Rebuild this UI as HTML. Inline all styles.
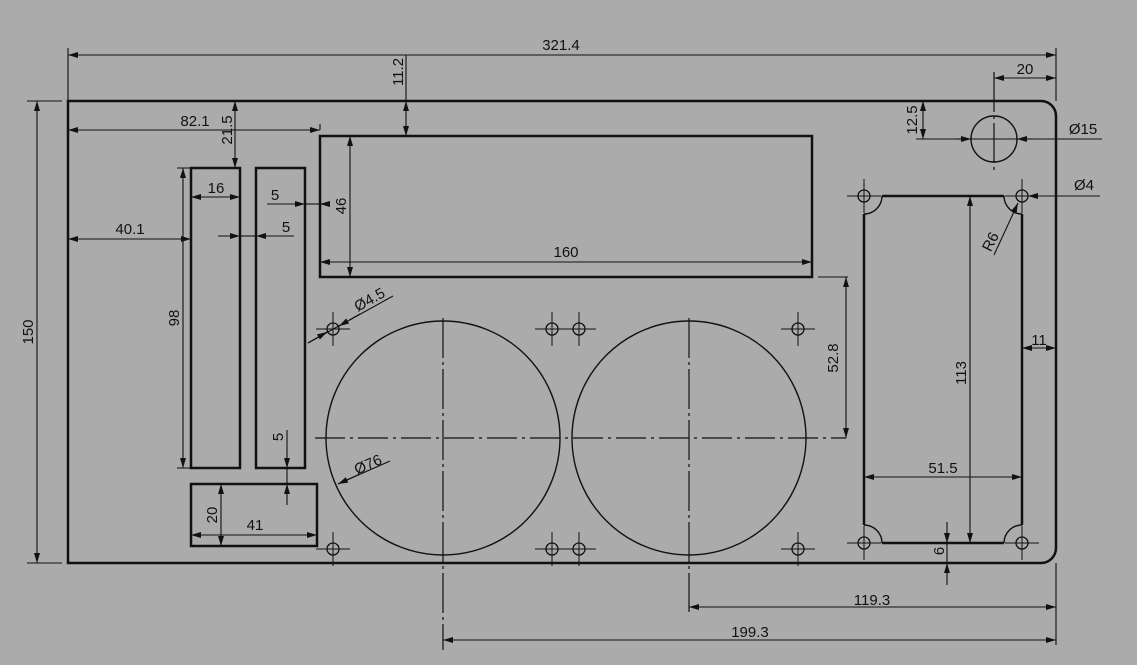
<!DOCTYPE html>
<html><head><meta charset="utf-8"><style>
html,body{margin:0;padding:0;background:#ababab;}
svg{display:block;}
text{font-family:"Liberation Sans",sans-serif;font-size:15px;fill:#111;}
</style></head><body>
<svg width="1137" height="665" viewBox="0 0 1137 665" xmlns="http://www.w3.org/2000/svg">
<defs>
<marker id="a" viewBox="0 0 10 6" refX="10" refY="3" markerWidth="10" markerHeight="6" orient="auto-start-reverse" markerUnits="userSpaceOnUse"><path d="M0,0 L10,3 L0,6 z" fill="#111"/></marker>
<g id="h"><circle r="6" fill="none" stroke="#111" stroke-width="1.3"/><path d="M-17,0H17M0,-17V17" stroke="#111" stroke-width="1"/><path d="M-3.5,0H3.5M0,-3.5V3.5" stroke="#111" stroke-width="1"/></g>
</defs>
<g fill="none" stroke="#111">
<path d="M68,101 H1041 A15,15 0 0 1 1056,116 V548 A15,15 0 0 1 1041,563 H68 Z" stroke-width="2.5"/>
<rect x="320" y="136" width="492" height="141" stroke-width="2.5"/>
<rect x="191" y="168" width="49" height="300" stroke-width="2.5"/>
<rect x="256" y="168" width="49" height="300" stroke-width="2.5"/>
<rect x="191" y="484" width="126" height="62" stroke-width="2.5"/>
<path d="M882,196 H1004 M1022,214 V525 M1004,543 H882 M864,525 V214" stroke-width="2.5"/>
<path d="M864,214 A18,18 0 0 0 882,196 M1004,196 A18,18 0 0 0 1022,214 M1022,525 A18,18 0 0 0 1004,543 M882,543 A18,18 0 0 0 864,525" stroke-width="1.4"/>
<circle cx="443" cy="438" r="117" stroke-width="1.4"/>
<circle cx="689" cy="438" r="117" stroke-width="1.4"/>
<circle cx="994" cy="139" r="23" stroke-width="1.4"/>
<path d="M315,438 H846" stroke-width="1.2" stroke-dasharray="30,5,3,5"/>
<path d="M443,318 V650" stroke-width="1.2" stroke-dasharray="40,4,3,4"/>
<path d="M689,318 V612" stroke-width="1.2" stroke-dasharray="40,4,3,4"/>
<path d="M994,72 V172" stroke-width="1.2" stroke-dasharray="40,4,3,4"/>
<g stroke-width="1.1">
<path d="M68,48 V101 M1056,48 V101 M1056,563 V645"/>
<path d="M68,55 H1056" marker-start="url(#a)" marker-end="url(#a)"/>
<path d="M406,55 V101"/><path d="M406,101 V136" marker-start="url(#a)" marker-end="url(#a)"/>
<path d="M994,78 H1056" marker-start="url(#a)" marker-end="url(#a)"/>
<path d="M916,101 H936 M916,139 H1102"/>
<path d="M923,101 V139" marker-start="url(#a)" marker-end="url(#a)"/>
<path d="M955,139 H971" marker-end="url(#a)"/><path d="M1033,139 H1017" marker-end="url(#a)"/>
<path d="M27,101 H62 M27,563 H62"/>
<path d="M37,101 V563" marker-start="url(#a)" marker-end="url(#a)"/>
<path d="M320,124 V130"/>
<path d="M68,130 H320" marker-start="url(#a)" marker-end="url(#a)"/>
<path d="M235,101 V168" marker-start="url(#a)" marker-end="url(#a)"/>
<path d="M177,168 H191 M177,468 H191"/>
<path d="M183,168 V468" marker-start="url(#a)" marker-end="url(#a)"/>
<path d="M191,197 H240" marker-start="url(#a)" marker-end="url(#a)"/>
<path d="M267,204 H305" marker-end="url(#a)"/><path d="M330,204 H320" marker-end="url(#a)"/><path d="M305,204 H320"/>
<path d="M218,236 H240" marker-end="url(#a)"/><path d="M294,236 H256" marker-end="url(#a)"/><path d="M240,236 H256"/>
<path d="M68,239 H191" marker-start="url(#a)" marker-end="url(#a)"/>
<path d="M350,136 V277" marker-start="url(#a)" marker-end="url(#a)"/>
<path d="M320,262 H812" marker-start="url(#a)" marker-end="url(#a)"/>
<path d="M308,343 L393,296"/><path d="M308,343 L327,332" marker-end="url(#a)"/><path d="M360,314 L339,326" marker-end="url(#a)"/>
<path d="M338,484 L390,461"/><path d="M360,474 L338,484" marker-end="url(#a)"/>
<path d="M287,430 V468" marker-end="url(#a)"/><path d="M287,505 V484" marker-end="url(#a)"/><path d="M287,468 V484"/>
<path d="M221,484 V546" marker-start="url(#a)" marker-end="url(#a)"/>
<path d="M191,535 H317" marker-start="url(#a)" marker-end="url(#a)"/>
<path d="M818,277 H848"/>
<path d="M846,277 V438" marker-start="url(#a)" marker-end="url(#a)"/>
<path d="M970,196 V543" marker-start="url(#a)" marker-end="url(#a)"/>
<path d="M864,477 H1022" marker-start="url(#a)" marker-end="url(#a)"/>
<path d="M1022,348 H1056" marker-start="url(#a)" marker-end="url(#a)"/>
<path d="M947,522 V543" marker-end="url(#a)"/><path d="M947,585 V563" marker-end="url(#a)"/><path d="M947,543 V563"/>
<path d="M1100,196 H1028" marker-end="url(#a)"/>
<path d="M994,255 L1018,203" marker-end="url(#a)"/>
<path d="M689,607 H1056" marker-start="url(#a)" marker-end="url(#a)"/>
<path d="M443,640 H1056" marker-start="url(#a)" marker-end="url(#a)"/>
</g>
</g>
<use href="#h" x="333" y="329"/><use href="#h" x="333" y="549"/>
<use href="#h" x="552" y="329"/><use href="#h" x="579" y="329"/>
<use href="#h" x="552" y="549"/><use href="#h" x="579" y="549"/>
<use href="#h" x="798" y="329"/><use href="#h" x="798" y="549"/>
<use href="#h" x="864" y="196"/><use href="#h" x="1022" y="196"/>
<use href="#h" x="864" y="543"/><use href="#h" x="1022" y="543"/>
<g text-anchor="middle">
<text x="561" y="50">321.4</text>
<text x="1025" y="74">20</text>
<text x="1083" y="134">Ø15</text>
<text x="1084" y="190">Ø4</text>
<text x="195" y="126">82.1</text>
<text x="216" y="193">16</text>
<text x="275" y="200">5</text>
<text x="286" y="232">5</text>
<text x="130" y="234">40.1</text>
<text x="566" y="257">160</text>
<text x="255" y="530">41</text>
<text x="943" y="473">51.5</text>
<text x="1039" y="345">11</text>
<text x="872" y="605">119.3</text>
<text x="750" y="637">199.3</text>
<text transform="translate(403,72) rotate(-90)">11.2</text>
<text transform="translate(917,120) rotate(-90)">12.5</text>
<text transform="translate(33,332) rotate(-90)">150</text>
<text transform="translate(232,130) rotate(-90)">21.5</text>
<text transform="translate(179,318) rotate(-90)">98</text>
<text transform="translate(346,206) rotate(-90)">46</text>
<text transform="translate(283,437) rotate(-90)">5</text>
<text transform="translate(217,515) rotate(-90)">20</text>
<text transform="translate(838,358) rotate(-90)">52.8</text>
<text transform="translate(966,373) rotate(-90)">113</text>
<text transform="translate(944,551) rotate(-90)">6</text>
<text transform="translate(372,304) rotate(-29)">Ø4.5</text>
<text transform="translate(370,469) rotate(-24)">Ø76</text>
<text transform="translate(995,244) rotate(-63)">R6</text>
</g>
</svg>
</body></html>
